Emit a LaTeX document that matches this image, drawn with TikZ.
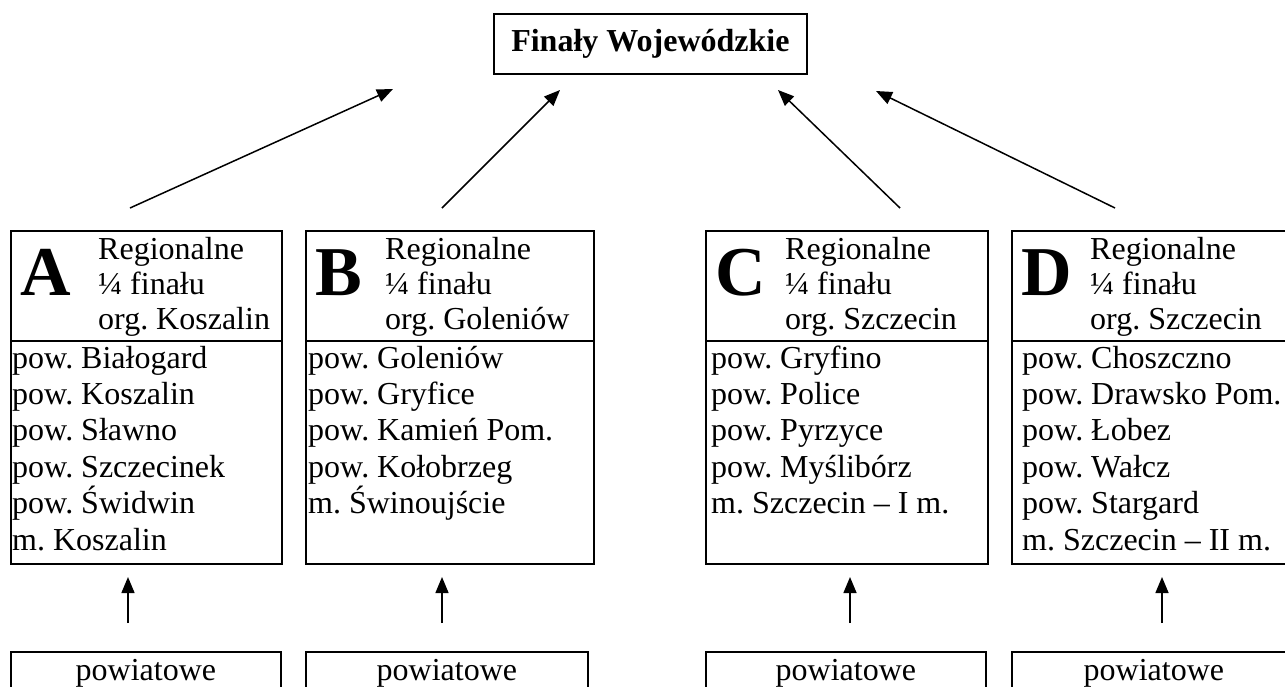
\documentclass[tikz,border=0pt]{standalone}
\usepackage{fontspec}
\setmainfont{Liberation Serif}
\frenchspacing
\usetikzlibrary{arrows.meta}
\tikzset{
  frame/.style={draw, line width=1.8pt, inner sep=0pt, anchor=north west},
  frameline/.style={line width=1.8pt},
  txt/.style={inner sep=0pt, anchor=base west, font=\fontsize{32}{36}\selectfont},
  big/.style={inner sep=0pt, anchor=base west, font=\fontsize{70}{70}\selectfont\bfseries},
  conn/.style={line width=1.5pt, -{Triangle[length=16pt,width=13pt]}},
  titlebox/.style={draw, line width=1.8pt, inner sep=0pt, anchor=north west,
    font=\fontsize{32}{36}\selectfont\bfseries},
  lowbox/.style={draw, line width=1.8pt, anchor=north west, inner xsep=0pt,
    inner ysep=6pt, text height=23pt, text depth=30pt,
    font=\fontsize{32}{36}\selectfont},
}
% name, x, width, letter, header offset, list offset, organiser, list
\newcommand\regbox[8]{%
  \node[frame, minimum width=#3pt, minimum height=333pt] (box#1) at (#2,230) {};
  \draw[frameline] (#2,341) -- ++(#3,0);
  \node[big] (let#1) at ({#2+10},295) {#4};
  \node[txt] (h#1a) at ({#2+#5},259) {Regionalne};
  \node[txt] (h#1b) at ({#2+#5},294) {¼ finału};
  \node[txt] (h#1c) at ({#2+#5},329) {org. #7};
  \foreach \t [count=\i] in {#8}
    \node[txt] (l#1\i) at ({#2+#6},{368+36.4*(\i-1)}) {\t};
}
\begin{document}
\begin{tikzpicture}[x=1pt,y=-1pt]
\useasboundingbox (0,0) rectangle (1285,686);

\node[titlebox, minimum width=313pt, minimum height=60pt] (top) at (493,13) {Finały Wojewódzkie};

\regbox{A}{10}{271}{A}{88}{2}{Koszalin}{pow. Białogard, pow. Koszalin, pow. Sławno, pow. Szczecinek, pow. Świdwin, m. Koszalin}
\regbox{B}{305}{288}{B}{80}{3}{Goleniów}{pow. Goleniów, pow. Gryfice, pow. Kamień Pom., pow. Kołobrzeg, m. Świnoujście}
\regbox{C}{705}{282}{C}{80}{6}{Szczecin}{pow. Gryfino, pow. Police, pow. Pyrzyce, pow. Myślibórz, m. Szczecin – I m.}
\regbox{D}{1011}{284}{D}{79}{11}{Szczecin}{pow. Choszczno, pow. Drawsko Pom., pow. Łobez, pow. Wałcz, pow. Stargard, m. Szczecin – II m.}

\node[lowbox, minimum width=270pt] (pA) at (10,651) {powiatowe};
\node[lowbox, minimum width=282pt] (pB) at (305,651) {powiatowe};
\node[lowbox, minimum width=280pt] (pC) at (705,651) {powiatowe};
\node[lowbox, minimum width=284pt] (pD) at (1011,651) {powiatowe};

% arrow end points
\coordinate (sA) at (130,208); \coordinate (eA) at (393,89);
\coordinate (sB) at (442,208); \coordinate (eB) at (560,90);
\coordinate (sC) at (900,208); \coordinate (eC) at (778,90);
\coordinate (sD) at (1115,208); \coordinate (eD) at (876,91);
\draw[conn] (sA) -- (eA);
\draw[conn] (sB) -- (eB);
\draw[conn] (sC) -- (eC);
\draw[conn] (sD) -- (eD);

\coordinate (vA0) at (128,623); \coordinate (vA1) at (128,577);
\coordinate (vB0) at (442,623); \coordinate (vB1) at (442,577);
\coordinate (vC0) at (850,623); \coordinate (vC1) at (850,577);
\coordinate (vD0) at (1162,623); \coordinate (vD1) at (1162,577);
\draw[conn] (vA0) -- (vA1);
\draw[conn] (vB0) -- (vB1);
\draw[conn] (vC0) -- (vC1);
\draw[conn] (vD0) -- (vD1);
\end{tikzpicture}
\end{document}
